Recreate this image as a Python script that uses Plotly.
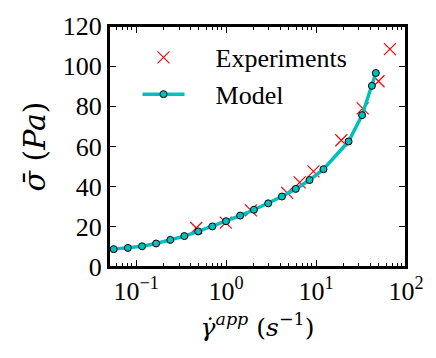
import numpy as np
import plotly.graph_objects as go

# Model curve
model_rate = [0.0564, 0.081, 0.1164, 0.167, 0.240, 0.344, 0.49, 0.703, 1.0, 1.435,
              2.04, 2.94, 4.18, 5.95, 8.47, 12.1, 23.0, 32.5, 41.8, 46.2]
model_stress = [8.9, 9.5, 10.3, 11.7, 13.5, 15.4, 17.7, 20.2, 22.8, 25.6,
                28.5, 31.7, 35.1, 38.9, 43.3, 48.7, 62.5, 75.6, 90.2, 96.6]

# Experiments
exp_rate = [0.466, 0.993, 1.89, 4.78, 6.58, 9.36, 19.1, 33.0, 49.5, 66.3]
exp_stress = [19.4, 22.1, 28.2, 36.9, 42.1, 47.6, 63.1, 79.0, 92.5, 108.5]

# x tick labels
x_ticks = [0.1, 1, 10, 100]
x_ticktext = ['10<sup>−1</sup>', '10<sup>0</sup>', '10<sup>1</sup>', '10<sup>2</sup>']

FONT = 'Liberation Serif'
CYAN = '#00bfbf'
PAD = '\u00a0' * 4   # gap between legend symbol and text

minor_vals = [m * 10.0 ** d for d in range(-2, 2) for m in range(2, 10)]

fig = go.Figure()
fig.add_trace(go.Scatter(x=exp_rate, y=exp_stress, mode='markers', name=PAD + 'Experiments',
                         marker=dict(symbol='x-thin', size=12,
                                     line=dict(color='#ff0000', width=1.2))))
fig.add_trace(go.Scatter(x=model_rate, y=model_stress, mode='lines+markers', name=PAD + 'Model',
                         line=dict(color=CYAN, width=3.5),
                         marker=dict(symbol='circle', size=7, color=CYAN,
                                     line=dict(color='black', width=1))))

fig.update_layout(width=436, height=358,
                  margin=dict(l=109, r=26, t=23, b=91),
                  paper_bgcolor='white', plot_bgcolor='white',
                  font=dict(family=FONT, size=26, color='black'),
                  showlegend=True,
                  legend=dict(x=0.096, y=0.967, xanchor='left', yanchor='top',
                              bgcolor='rgba(0,0,0,0)', itemwidth=42,
                              font=dict(family=FONT, size=26)))

# frame
fig.add_shape(type='rect', xref='paper', yref='paper', x0=0, x1=1, y0=0, y1=1,
              line=dict(color='black', width=2), layer='above')

fig.update_xaxes(type='log', range=[np.log10(0.05), 2],
                 tickmode='array', tickvals=x_ticks, ticktext=x_ticktext,
                 ticks='inside', ticklen=7, tickwidth=1, tickcolor='black',
                 minor=dict(ticks='inside', ticklen=4, tickwidth=1, tickcolor='black',
                            tickmode='array', tickvals=minor_vals, showgrid=False),
                 showline=True, linecolor='black', linewidth=2, mirror='ticks',
                 showgrid=False, zeroline=False,
                 tickfont=dict(family=FONT, size=26),
                 title=dict(text='<i>γ̇</i><sup><i>app</i></sup> (<i>s</i><sup>−1</sup>)',
                            font=dict(family='DejaVu Serif', size=25), standoff=13))

fig.update_yaxes(range=[0, 120], dtick=20,
                 ticks='inside', ticklen=7, tickwidth=1, tickcolor='black',
                 showline=True, linecolor='black', linewidth=2, mirror='ticks',
                 showgrid=False, zeroline=False,
                 tickfont=dict(family=FONT, size=26),
                 title=dict(text='<i>σ̄</i> (<i>Pa</i>)',
                            font=dict(family='DejaVu Serif', size=30), standoff=8))

# drop the default page margin so the figure fills the window
fig.write_html("out.html", config={'displayModeBar': False},
               post_script="document.body.style.margin='0';document.body.style.overflow='hidden';")
